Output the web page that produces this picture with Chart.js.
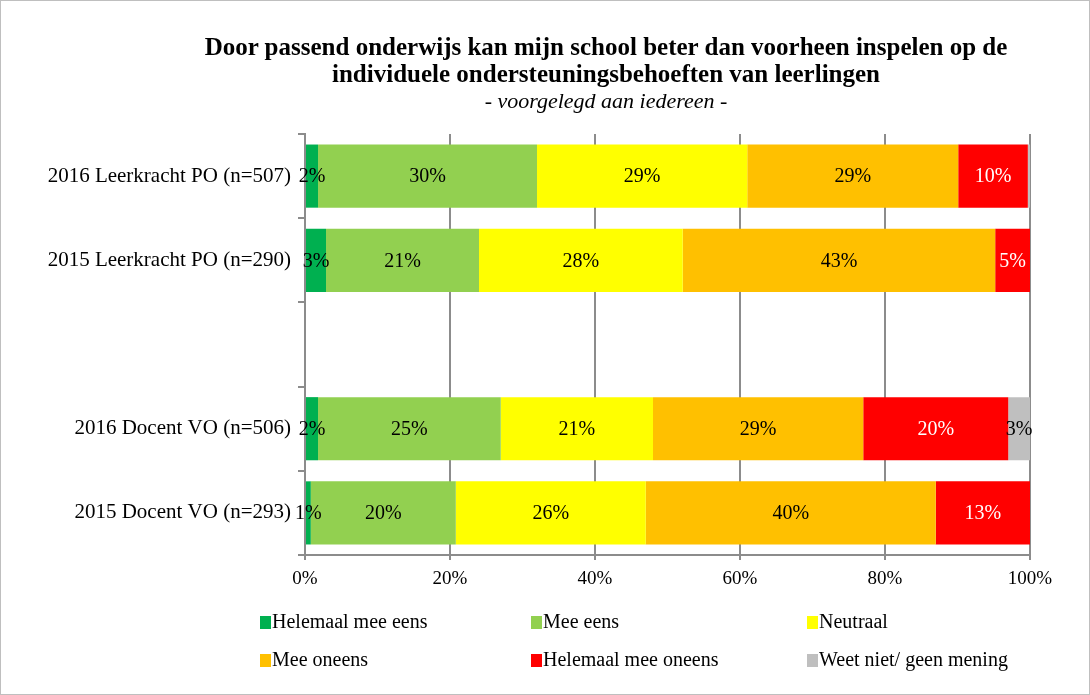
<!DOCTYPE html>
<html>
<head>
<meta charset="utf-8">
<script src="https://cdn.jsdelivr.net/npm/chart.js@4.4.0/dist/chart.umd.min.js"></script>
<style>
  body { margin: 0; background: #fff; }
  #wrap { position: relative; width: 1090px; height: 695px; font-family: "Liberation Serif", serif; }
  #frame { position: absolute; left: 0; top: 0; width: 1088px; height: 693px; border: 1px solid #bfbfbf; pointer-events: none; }
  .t { position: absolute; left: 0; width: 1212px; text-align: center; color: #000; white-space: nowrap; }
  #legend .item { position: absolute; font-size: 20px; color: #000; line-height: 22px; white-space: nowrap; }
  #legend .box { display: inline-block; width: 11px; height: 13px; margin-right: 1px; vertical-align: -1px; }
</style>
</head>
<body>
<div id="wrap">
  <canvas id="myChart" width="1090" height="695"></canvas>
  <div class="t" style="top:33px;font-weight:bold;font-size:25px;line-height:27px;">Door passend onderwijs kan mijn school beter dan voorheen inspelen op de<br>individuele ondersteuningsbehoeften van leerlingen</div>
  <div class="t" style="top:89px;font-style:italic;font-size:22px;line-height:24px;">- voorgelegd aan iedereen -</div>
  <div id="legend"></div>
  <div id="frame"></div>
</div>
<script>
const categories = ['2016 Leerkracht PO (n=507)', '2015 Leerkracht PO (n=290)', '', '2016 Docent VO (n=506)', '2015 Docent VO (n=293)'];
const helemaalMeeEens = [1.8, 2.9, null, 1.8, 0.8];
const meeEens = [30.2, 21.1, null, 25.2, 20.0];
const neutraal = [29.0, 28.1, null, 21.0, 26.2];
const meeOneens = [29.1, 43.1, null, 29.0, 40.0];
const helemaalMeeOneens = [9.6, 4.8, null, 20.0, 13.0];
const weetNiet = [0.4, 0, null, 3.0, 0];
const xTicks = [0, 20, 40, 60, 80, 100];

const seriesNames = ['Helemaal mee eens', 'Mee eens', 'Neutraal', 'Mee oneens', 'Helemaal mee oneens', 'Weet niet/ geen mening'];
const seriesData = [helemaalMeeEens, meeEens, neutraal, meeOneens, helemaalMeeOneens, weetNiet];
const colors = ['#00B050', '#92D050', '#FFFF00', '#FFC000', '#FF0000', '#BFBFBF'];
const labelColors = ['#000', '#000', '#000', '#000', '#fff', '#000'];

const GRID = '#8c8c8c';

const barLabels = {
  id: 'barLabels',
  afterDatasetsDraw(chart) {
    const { ctx } = chart;
    ctx.save();
    ctx.font = '20px "Liberation Serif"';
    ctx.textAlign = 'center';
    ctx.textBaseline = 'middle';
    chart.data.datasets.forEach((ds, i) => {
      chart.getDatasetMeta(i).data.forEach((bar, j) => {
        const v = ds.data[j];
        if (v == null || Math.round(v) < 1) return;
        ctx.fillStyle = labelColors[i];
        ctx.fillText(Math.round(v) + '%', (bar.x + bar.base) / 2, bar.y + 1);
      });
    });
    ctx.restore();
  },
};

const ctx = document.getElementById('myChart').getContext('2d');

const chart = new Chart(ctx, {
  type: 'bar',
  data: {
    labels: categories,
    datasets: seriesData.map((d, i) => ({
      label: seriesNames[i],
      data: d,
      backgroundColor: colors[i],
      borderWidth: 0,
      barPercentage: 0.75,
      categoryPercentage: 1,
    })),
  },
  options: {
    indexAxis: 'y',
    responsive: false,
    animation: false,
    layout: { padding: { top: 134, right: 60, bottom: 100, left: 0 } },
    plugins: {
      legend: { display: false },
      tooltip: { enabled: false },
    },
    scales: {
      x: {
        stacked: true,
        min: 0,
        max: 100,
        afterBuildTicks: (scale) => { scale.ticks = xTicks.map((v) => ({ value: v })); },
        afterFit: (scale) => { scale.height = 40; },
        grid: { color: GRID, lineWidth: 2, tickLength: 5 },
        border: { color: GRID, width: 2 },
        ticks: {
          color: '#000',
          padding: 8,
          font: { family: 'Liberation Serif', size: 19 },
          callback: (v) => v + '%',
        },
      },
      y: {
        stacked: true,
        afterFit: (scale) => { scale.width = 305; },
        grid: { display: true, drawOnChartArea: false, color: GRID, lineWidth: 2, tickLength: 7 },
        border: { color: GRID, width: 2 },
        ticks: {
          color: '#000',
          padding: 7,
          font: { family: 'Liberation Serif', size: 21 },
        },
      },
    },
  },
  plugins: [barLabels],
});

// legend in 3 columns
const legend = document.getElementById('legend');
const legendCols = [260, 531, 807];
const legendRows = [610, 648];
seriesNames.forEach((name, i) => {
  const el = document.createElement('div');
  el.className = 'item';
  el.style.left = legendCols[i % 3] + 'px';
  el.style.top = legendRows[Math.floor(i / 3)] + 'px';
  el.innerHTML = '<span class="box" style="background:' + colors[i] + '"></span>' + name;
  legend.appendChild(el);
});
</script>
</body>
</html>
